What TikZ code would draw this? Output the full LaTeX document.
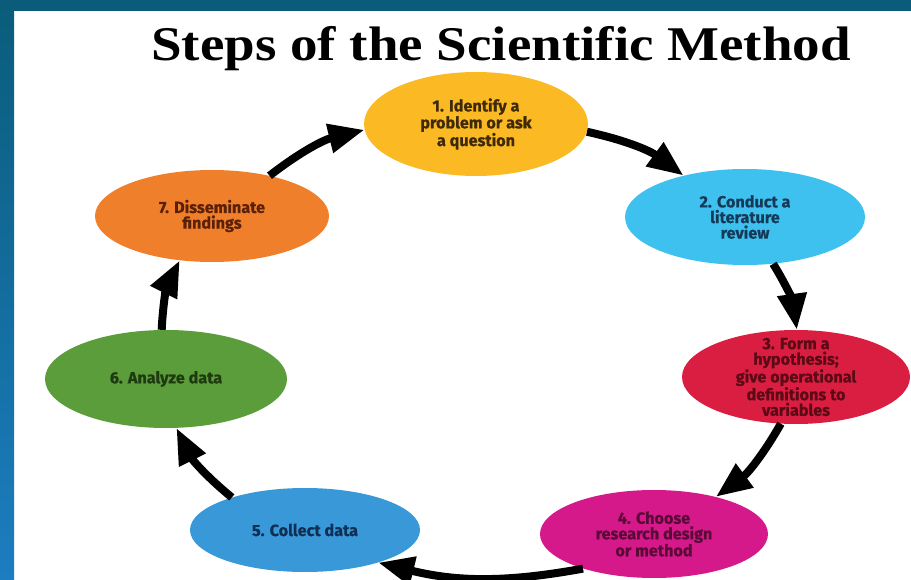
\documentclass[tikz,border=0pt]{standalone}
\usepackage{fontspec}
\setmainfont{Liberation Serif}
\newfontfamily\labelfont[BoldFeatures={FakeBold=0.6}]{Fira Sans}
\usetikzlibrary{shapes.geometric,arrows.meta}
\definecolor{bgtop}{HTML}{0A5C7A}
\definecolor{bgbot}{HTML}{1C7DC0}
\definecolor{cyellow}{HTML}{FBB923}
\definecolor{clblue}{HTML}{3EC1EE}
\definecolor{cred}{HTML}{D91E41}
\definecolor{cmag}{HTML}{D6198A}
\definecolor{cblue}{HTML}{3898D8}
\definecolor{cgreen}{HTML}{5B9C3B}
\definecolor{corange}{HTML}{F07F2B}
\definecolor{tyellow}{HTML}{3E2A08}
\definecolor{tlblue}{HTML}{143A58}
\definecolor{tred}{HTML}{5C0A16}
\definecolor{tmag}{HTML}{5A0A36}
\definecolor{tblue}{HTML}{102F55}
\definecolor{tgreen}{HTML}{1E3A10}
\definecolor{torange}{HTML}{5A2008}
\tikzset{
  blob/.style={ellipse, inner sep=0pt, draw=none},
  txt/.style={align=center, inner sep=0pt, font=\labelfont\bfseries\fontsize{16.2}{15.6}\selectfont},
  arr/.style={line width=8pt, -{Triangle[length=36pt,width=28pt]}, black}
}
\begin{document}
\begin{tikzpicture}[x=1pt,y=-1pt]
\useasboundingbox (0,0) rectangle (911,580);
\fill[white] (0,0) rectangle (911,580);
\shade[top color=bgtop, bottom color=bgbot] (0,0) rectangle (14,580);
\fill[bgtop] (0,0) rectangle (911,11);

\node[anchor=base, yscale=0.88, font=\bfseries\fontsize{55}{60}\selectfont] (title) at (501,61) {Steps of the Scientific Method};

\node[blob, fill=cyellow, minimum width=224pt, minimum height=104pt] (o1) at (476,124) {};
\node[blob, fill=clblue, minimum width=240pt, minimum height=96pt] (o2) at (745,217) {};
\node[blob, fill=cred, minimum width=228pt, minimum height=94pt] (o3) at (796,377) {};
\node[blob, fill=cmag, minimum width=228pt, minimum height=88pt] (o4) at (654,534) {};
\node[blob, fill=cblue, minimum width=230pt, minimum height=84pt] (o5) at (305,530) {};
\node[blob, fill=cgreen, minimum width=242pt, minimum height=98pt] (o6) at (166,379) {};
\node[blob, fill=corange, minimum width=234pt, minimum height=92pt] (o7) at (212,216) {};

\node[txt, text=tyellow] (t1) at (o1.center) {1. Identify a\\problem or ask\\a question};
\node[txt, text=tlblue] (t2) at (o2.center) {2. Conduct a\\literature\\review};
\node[txt, text=tred] (t3) at (o3.center) {3. Form a\\hypothesis;\\give operational\\definitions to\\variables};
\node[txt, text=tmag] (t4) at (o4.center) {4. Choose\\research design\\or method};
\node[txt, text=tblue] (t5) at (o5.center) {5. Collect data};
\node[txt, text=tgreen] (t6) at (o6.center) {6. Analyze data};
\node[txt, text=torange] (t7) at (o7.center) {7. Disseminate\\findings};

\draw[arr] (o7.35) to[bend left=12] (o1.183);
\draw[arr] (o1.356) to[bend left=12] (o2.146);
\draw[arr] (o2.301) to[bend left=12] (o3.89);
\draw[arr] (o3.252) to[bend left=12] (o4.31);
\draw[arr] (o4.206) to[bend left=12] (o5.336);
\draw[arr] (o5.156) to[bend left=12] (o6.282);
\draw[arr] (o6.95) to[bend left=12] (o7.234);
\end{tikzpicture}
\end{document}
